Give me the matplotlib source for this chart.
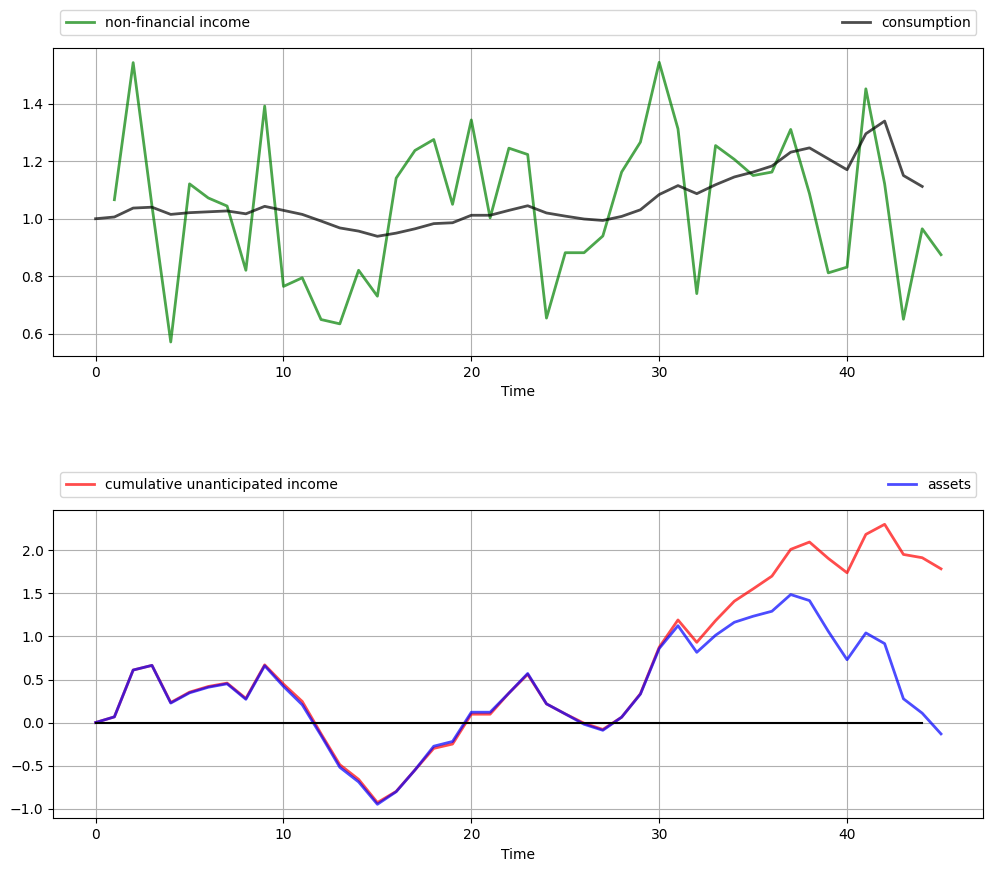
import matplotlib
matplotlib.use("Agg")
import matplotlib.pyplot as plt
import numpy as np

# non-financial income, t = 1..45
income = [1.066, 1.542, 1.045, 0.572, 1.121, 1.072, 1.044, 0.821, 1.391, 0.765,
          0.795, 0.650, 0.635, 0.821, 0.731, 1.141, 1.237, 1.275, 1.050, 1.343,
          1.003, 1.245, 1.223, 0.655, 0.882, 0.882, 0.940, 1.162, 1.266, 1.543,
          1.312, 0.740, 1.254, 1.206, 1.150, 1.162, 1.310, 1.087, 0.812, 0.832,
          1.451, 1.121, 0.651, 0.965, 0.875]

# consumption, t = 0..44
consumption = [1.000, 1.006, 1.037, 1.040, 1.015, 1.021, 1.024, 1.027, 1.017, 1.043,
               1.029, 1.015, 0.992, 0.968, 0.957, 0.939, 0.950, 0.965, 0.983, 0.986,
               1.012, 1.012, 1.029, 1.045, 1.020, 1.009, 0.999, 0.994, 1.008, 1.031,
               1.084, 1.115, 1.087, 1.118, 1.145, 1.162, 1.183, 1.231, 1.246, 1.208,
               1.170, 1.295, 1.339, 1.150, 1.112]

# cumulative unanticipated income, t = 0..45
cum_income = [0.000, 0.066, 0.610, 0.664, 0.233, 0.353, 0.419, 0.458, 0.280, 0.670,
              0.447, 0.245, -0.130, -0.490, -0.660, -0.930, -0.800, -0.551, -0.300, -0.250,
              0.097, 0.097, 0.342, 0.560, 0.217, 0.100, -0.008, -0.080, 0.062, 0.335,
              0.875, 1.192, 0.932, 1.184, 1.410, 1.553, 1.701, 2.012, 2.097, 1.907,
              1.740, 2.186, 2.303, 1.953, 1.915, 1.786]

# assets, t = 0..45
assets = [0.000, 0.066, 0.610, 0.664, 0.226, 0.345, 0.410, 0.450, 0.270, 0.660,
          0.420, 0.206, -0.150, -0.520, -0.690, -0.950, -0.804, -0.551, -0.275, -0.220,
          0.120, 0.120, 0.342, 0.570, 0.217, 0.100, -0.020, -0.090, 0.062, 0.330,
          0.860, 1.125, 0.816, 1.014, 1.165, 1.235, 1.293, 1.487, 1.417, 1.060,
          0.730, 1.041, 0.917, 0.276, 0.109, -0.132]

t_income = np.arange(1, len(income) + 1)
t_cons = np.arange(len(consumption))
t_cum = np.arange(len(cum_income))
t_assets = np.arange(len(assets))

fig = plt.figure(figsize=(9.93, 8.71), dpi=100)
ax1 = fig.add_axes([0.0537, 0.5913, 0.9365, 0.3532])
ax2 = fig.add_axes([0.0537, 0.0605, 0.9365, 0.3536])

ax1.plot(t_income, income, 'g-', lw=2, alpha=0.7, label='non-financial income')
ax1.plot(t_cons, consumption, 'k-', lw=2, alpha=0.7, label='consumption')
ax1.legend(bbox_to_anchor=(0., 1.02, 1., .102), loc=3, ncol=2, mode="expand")
ax1.grid()
ax1.set_xlabel('Time')

ax2.plot(t_cum, cum_income, 'r-', lw=2, alpha=0.7, label='cumulative unanticipated income')
ax2.plot(t_assets, assets, 'b-', lw=2, alpha=0.7, label='assets')
ax2.plot(t_cons, np.zeros(len(t_cons)), 'k-', lw=1.5)
ax2.legend(bbox_to_anchor=(0., 1.02, 1., .102), loc=3, ncol=2, mode="expand")
ax2.grid()
ax2.set_xlabel('Time')

fig.savefig('out.png')
